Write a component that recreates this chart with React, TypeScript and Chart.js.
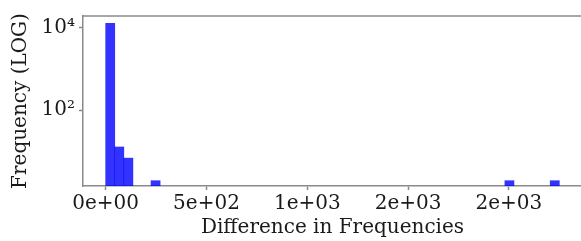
import React, { useEffect, useRef } from "react";
import { Chart, registerables } from "chart.js";

Chart.register(...registerables);

// Histogram bins (lower edge of each non-empty bin) and counts
const binWidth = 45;
const binStarts = [0, 45, 90, 225, 1980, 2205];
const counts = [12500, 13, 7, 2, 2, 2];

const xTicks = [0, 500, 1000, 1500, 2000];
const yTicks = [100, 10000];
const yTickLabels: Record<number, string> = { 100: "10²", 10000: "10⁴" };

const xTitle = "Difference in Frequencies";
const yTitle = "Frequency (LOG)";

const FONT = "'DejaVu Serif', serif";
const TEXT = "#1a1a1a";
const SPINE = "#8a8a8a";

function fmtExp(v: number): string {
  if (v === 0) return "0e+00";
  const s = v.toExponential(0); // e.g. "5e+2"
  const [m, e] = s.split("e");
  const sign = e[0] === "-" ? "-" : "+";
  const digits = e.replace(/[+-]/, "").padStart(2, "0");
  return `${m}e${sign}${digits}`;
}

const topSpine = {
  id: "topSpine",
  afterDraw(chart: any) {
    const { ctx, chartArea } = chart;
    ctx.save();
    ctx.strokeStyle = SPINE;
    ctx.lineWidth = 1.5;
    ctx.beginPath();
    ctx.moveTo(chartArea.left, chartArea.top);
    ctx.lineTo(chartArea.right, chartArea.top);
    ctx.stroke();
    ctx.restore();
  },
};

export default function App() {
  const ref = useRef<HTMLCanvasElement | null>(null);

  useEffect(() => {
    if (!ref.current) return;
    const data = binStarts.map((s, i) => ({ x: s + binWidth / 2, y: counts[i] }));
    const chart = new Chart(ref.current, {
      type: "bar",
      data: {
        datasets: [
          {
            data: data as any,
            backgroundColor: "rgba(0,0,255,0.8)",
            borderWidth: 0,
            barPercentage: 1,
            categoryPercentage: 1,
          },
        ],
      },
      plugins: [topSpine],
      options: {
        animation: false,
        responsive: false,
        devicePixelRatio: 1,
        layout: { padding: { top: 14, right: 2, left: 0, bottom: 0 } },
        plugins: { legend: { display: false }, tooltip: { enabled: false } },
        scales: {
          x: {
            type: "linear",
            min: -112.5,
            max: 2362.5,
            offset: false,
            afterBuildTicks: (s: any) => {
              s.ticks = xTicks.map((v) => ({ value: v }));
            },
            afterFit: (s: any) => {
              s.height = 55;
            },
            grid: {
              offset: false,
              drawOnChartArea: false,
              drawTicks: true,
              tickLength: 4,
              color: SPINE,
              tickWidth: 1.5,
            },
            border: { display: true, color: SPINE, width: 1.5 },
            ticks: {
              autoSkip: false,
              maxRotation: 0,
              padding: 2,
              color: TEXT,
              font: { family: FONT, size: 20 },
              callback: (v: any) => fmtExp(Number(v)),
            },
            title: {
              display: true,
              text: xTitle,
              color: TEXT,
              font: { family: FONT, size: 20, lineHeight: 1.2 },
              padding: { top: 0, bottom: 1 },
            },
          },
          y: {
            type: "logarithmic",
            min: 1.49,
            max: 18750,
            afterBuildTicks: (s: any) => {
              s.ticks = yTicks.map((v) => ({ value: v, major: true }));
            },
            afterFit: (s: any) => {
              s.width = 83;
            },
            grid: {
              drawOnChartArea: false,
              drawTicks: true,
              tickLength: 4,
              color: SPINE,
              tickWidth: 1.5,
            },
            border: { display: true, color: SPINE, width: 1.5 },
            ticks: {
              autoSkip: false,
              padding: 4,
              color: TEXT,
              font: { family: FONT, size: 20 },
              callback: (v: any) => yTickLabels[Number(v)] ?? "",
            },
            title: {
              display: true,
              text: yTitle,
              color: TEXT,
              font: { family: FONT, size: 20, lineHeight: 1.2 },
              padding: { top: 9, bottom: 0 },
            },
          },
        },
      },
    });
    return () => chart.destroy();
  }, []);

  return (
    <div
      style={{
        position: "fixed",
        left: 0,
        top: 0,
        width: 581,
        height: 241,
        overflow: "hidden",
        background: "#fff",
      }}
    >
      <canvas ref={ref} width={584} height={241} style={{ display: "block" }} />
    </div>
  );
}
